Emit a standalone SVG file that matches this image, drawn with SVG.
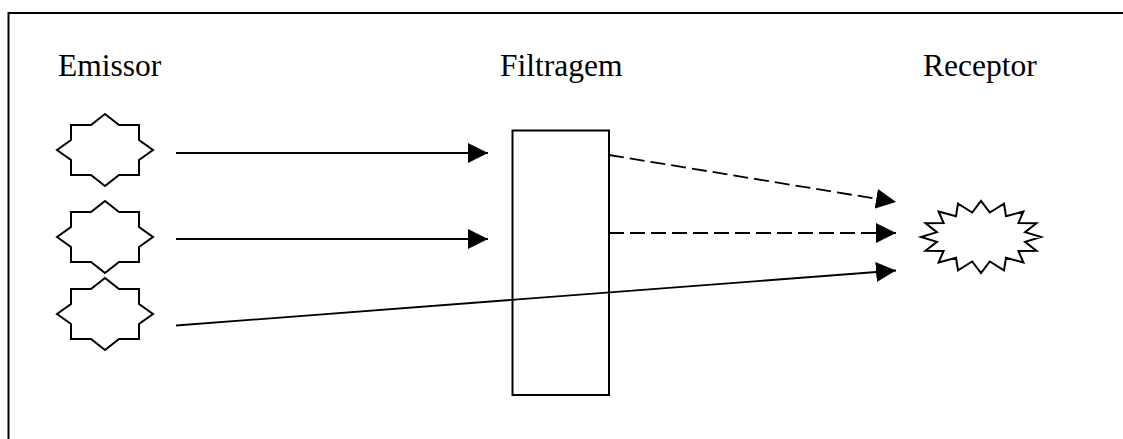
<svg xmlns="http://www.w3.org/2000/svg" width="1123" height="439" viewBox="0 0 1123 439">
<style>
.t{font-family:"Liberation Serif","Times New Roman",serif;font-size:31.5px;fill:#000}
.s{fill:#fff;stroke:#000;stroke-width:2;stroke-linejoin:miter}
.c{fill:none;stroke:#000;stroke-width:1.8}
.d{stroke-dasharray:15 6}
</style>
<defs>
<marker id="ah" markerUnits="userSpaceOnUse" markerWidth="20" markerHeight="20" refX="20" refY="10" orient="auto" viewBox="0 0 20 20">
<path d="M0,0 L20,10 L0,20 Z" fill="#000"/>
</marker>
<path id="star8" d="M0,-36 L14,-25 L34,-25 L34,-10 L48,0 L34,10 L34,25 L14,25 L0,36 L-14,25 L-34,25 L-34,10 L-48,0 L-34,-10 L-34,-25 L-14,-25 Z"/>
</defs>
<rect width="1123" height="439" fill="#fff"/>
<g id="frame">
<path d="M8.5,439 L8.5,13 L1123,13" fill="none" stroke="#000" stroke-width="2"/>
</g>
<g id="labels">
<text class="t" x="58" y="76">Emissor</text>
<text class="t" x="500" y="76">Filtragem</text>
<text class="t" x="923" y="76">Receptor</text>
</g>
<g id="emissor1"><use href="#star8" class="s" transform="translate(105,150)"/></g>
<g id="emissor2"><use href="#star8" class="s" transform="translate(105,237)"/></g>
<g id="emissor3"><use href="#star8" class="s" transform="translate(105,314)"/></g>
<g id="filtro"><rect class="s" x="512.5" y="130.5" width="96.5" height="264.5"/></g>
<g id="receptor">
<polygon class="s" points="1041,237 1025.1,232.1 1036.4,223.2 1018.4,223.1 1023.4,211.5 1006,216.2 1004,203.7 989.8,212.5 981,201 972.2,212.5 958,203.7 956,216.2 938.6,211.5 943.6,223.1 925.6,223.2 936.9,232.1 921,237 936.9,241.9 925.6,250.8 943.6,250.9 938.6,262.5 956,257.8 958,270.3 972.2,261.5 981,273 989.8,261.5 1004,270.3 1006,257.8 1023.4,262.5 1018.4,250.9 1036.4,250.8 1025.1,241.9"/>
</g>
<g id="connectors">
<line class="c" x1="176" y1="153" x2="488" y2="153" marker-end="url(#ah)"/>
<line class="c" x1="176" y1="239" x2="488" y2="239" marker-end="url(#ah)"/>
<line class="c" x1="176" y1="325.5" x2="896" y2="270.5" marker-end="url(#ah)"/>
<line class="c d" x1="609" y1="155" x2="896" y2="202" marker-end="url(#ah)"/>
<line class="c d" x1="609" y1="233" x2="896" y2="233" marker-end="url(#ah)"/>
</g>
</svg>
